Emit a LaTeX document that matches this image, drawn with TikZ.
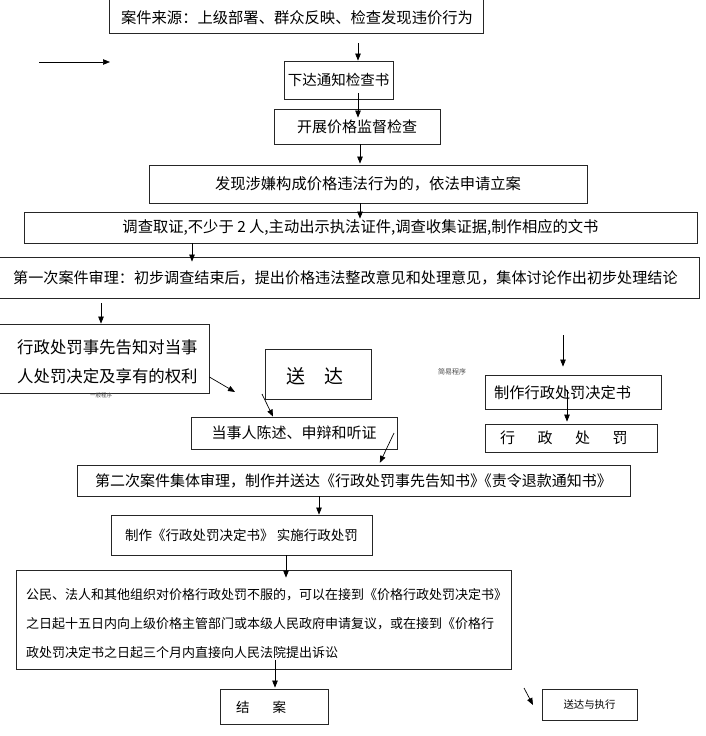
\documentclass[tikz,border=0pt]{standalone}
\usepackage{fontspec}
\setmainfont{Noto Sans CJK SC}
\usetikzlibrary{arrows.meta,calc}
\newcommand\fsz[1]{\fontsize{#1}{#1}\selectfont}
\begin{document}
\begin{tikzpicture}[x=1pt,y=-1pt,
  box/.style={draw=black!85, line width=0.8pt, inner sep=0pt},
  arr/.style={-{Triangle[length=7pt,width=5.5pt]}, line width=0.7pt},
  tiny/.style={text=black!70, inner sep=0pt}
]
\useasboundingbox (0,0) rectangle (706,736);
\fill[white] (0,0) rectangle (706,736);

% boxes
\node[box, minimum width=374, minimum height=40] (src) at (296,13) {};
\node[inner sep=0pt, font=\fsz{15.3}] (srct) at (297,18) {案件来源：上级部署、群众反映、检查发现违价行为};
\node[box, minimum width=109, minimum height=38, font=\fsz{14.5}] (xiada) at (338.5,80) {下达通知检查书};
\node[box, minimum width=166, minimum height=35, font=\fsz{15}] (kaizhan) at (357,126.5) {开展价格监督检查};
\node[box, minimum width=438, minimum height=38, font=\fsz{15.3}] (faxian) at (368,184) {发现涉嫌构成价格违法行为的，依法申请立案};
\node[box, minimum width=673, minimum height=31, font=\fsz{15.3}] (diaocha) at (360.5,227.5) {调查取证,不少于 2 人,主动出示执法证件,调查收集证据,制作相应的文书};
\node[box, minimum width=705, minimum height=41] (diyici) at (346.5,277.5) {};
\node[anchor=west, inner sep=0pt, font=\fsz{15.1}] (diyicit) at (13,278) {第一次案件审理：初步调查结束后，提出价格违法整改意见和处理意见，集体讨论作出初步处理结论};

\node[box, minimum width=215, minimum height=69] (gaozhi) at (101.5,358.5) {};
\node[anchor=west, inner sep=0pt, align=left, font=\fontsize{16.4}{29}\selectfont] (gaozhit) at (17,362) {行政处罚事先告知对当事\\人处罚决定及享有的权利};

\node[box, minimum width=106, minimum height=50] (songda) at (318,374) {};
\node[inner sep=0pt, font=\fsz{19}] (songdat) at (314.5,376) {送\hspace{19pt}达};

\node[box, minimum width=206, minimum height=32, font=\fsz{15}] (dangshi) at (294,433) {当事人陈述、申辩和听证};

\node[box, minimum width=176, minimum height=34] (zhizuo1) at (573,392) {};
\node[anchor=west, inner sep=0pt, font=\fsz{15.2}] (zhizuo1t) at (494,393) {制作行政处罚决定书};

\node[box, minimum width=172, minimum height=28] (xingzheng) at (571,438) {};
\node[anchor=west, inner sep=0pt, font=\fsz{15}] (xingzhengt) at (500,438) {行\hspace{22.5pt}政\hspace{22.5pt}处\hspace{22.5pt}罚};

\node[box, minimum width=553, minimum height=31, font=\fsz{15}] (dierci) at (353.5,480.5) {第二次案件集体审理，制作并送达《行政处罚事先告知书》\hspace{-0.55em}《责令退款通知书》};

\node[box, minimum width=261, minimum height=40, font=\fsz{13.5}] (zhizuo2) at (241.5,535) {制作《行政处罚决定书》 实施行政处罚};

\node[box, minimum width=495, minimum height=99] (big) at (263.5,619.5) {};
\node[anchor=west, inner sep=0pt, align=left, font=\fontsize{13}{29}\selectfont] (bigt) at (26,624) {公民、法人和其他组织对价格行政处罚不服的，可以在接到《价格行政处罚决定书》\\之日起十五日内向上级价格主管部门或本级人民政府申请复议，或在接到《价格行\\政处罚决定书之日起三个月内直接向人民法院提出诉讼};

\node[box, minimum width=108, minimum height=35] (jiean) at (274,706.5) {};
\node[anchor=west, inner sep=0pt, font=\fsz{13.5}] (jieant) at (236,707) {结\hspace{23pt}案};

\node[box, minimum width=95, minimum height=31, font=\fsz{10.4}] (zhixing) at (589.5,704.5) {送达与执行};

% tiny labels
\node[tiny, font=\fsz{7}] (jianyi) at (452,372) {简易程序};
\node[tiny, font=\fsz{5.5}] (yiban) at (101,395.5) {一般程序};

% helper coordinates
\coordinate (la1) at (39,62);
\coordinate (la2) at (110,62);
\coordinate (xa) at (358,0);
\coordinate (xb) at (360,0);
\coordinate (xc) at (192,0);
\coordinate (xd) at (101,0);
\coordinate (g0) at (209,377);
\coordinate (g1) at (235,392);
\coordinate (s0) at (262,394);
\coordinate (s1) at (273,0);
\coordinate (d0) at (394,433);
\coordinate (d1) at (379,0);
\coordinate (k0) at (563,335);
\coordinate (xl) at (567,0);
\coordinate (xm) at (319,0);
\coordinate (xn) at (286,0);
\coordinate (xo) at (275,0);
\coordinate (p0) at (524,688);
\coordinate (p1) at (533,705);

% connectors
\draw[arr] (la1) -- (la2);
\draw[arr, shorten <=10pt] (src.south -| xa) -- (xiada.north -| xa);
\draw[arr, shorten <=-6pt, shorten >=-9pt] (xiada.south -| xa) -- (kaizhan.north -| xa);
\draw[arr, shorten >=1pt] (kaizhan.south -| xb) -- (faxian.north -| xb);
\draw[arr, shorten >=-7pt] (faxian.south -| xb) -- (diaocha.north -| xb);
\draw[arr, shorten >=-5pt] (diaocha.south -| xc) -- (diyici.north -| xc);
\draw[arr, shorten <=5pt] (diyici.south -| xd) -- (gaozhi.north -| xd);
\draw[arr] (gaozhi.east |- g0) -- (g1);
\draw[arr] (s0) -- (dangshi.north -| s1);
\draw[arr, shorten >=2pt] (d0) -- (dierci.north -| d1);
\draw[arr, shorten >=8pt] (k0) -- (zhizuo1.north -| k0);
\draw[arr, shorten <=-19pt, shorten >=2pt] (zhizuo1.south -| xl) -- (xingzheng.north -| xl);
\draw[arr] (dierci.south -| xm) -- (zhizuo2.north -| xm);
\draw[arr, shorten >=-8pt] (zhizuo2.south -| xn) -- (big.north -| xn);
\draw[arr, shorten <=-9pt, shorten >=1pt] (big.south -| xo) -- (jiean.north -| xo);
\draw[arr] (p0) -- (p1);
\end{tikzpicture}
\end{document}
